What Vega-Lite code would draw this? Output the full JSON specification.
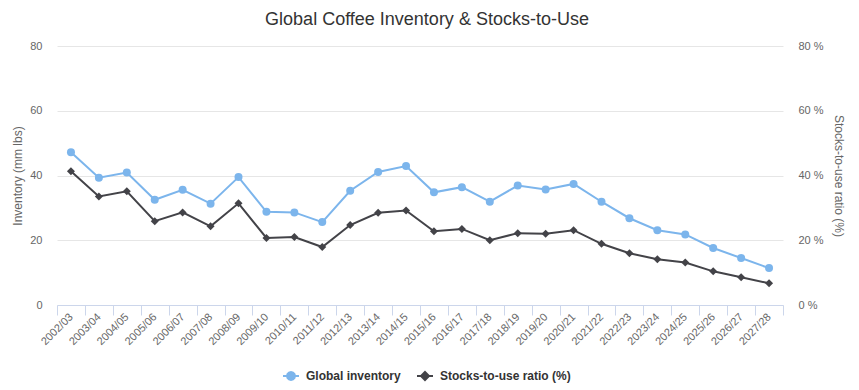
{
  "$schema": "https://vega.github.io/schema/vega-lite/v6.json",
  "width": 726,
  "height": 259,
  "autosize": "none",
  "padding": {"left": 57, "top": 46, "right": 76, "bottom": 85},
  "background": "#ffffff",
  "config": {
    "font": "Liberation Sans",
    "view": {"stroke": null}
  },
  "title": {
    "text": "Global Coffee Inventory & Stocks-to-Use",
    "fontSize": 18,
    "fontWeight": "normal",
    "color": "#333333",
    "anchor": "middle",
    "dx": 7,
    "offset": 11
  },
  "data": {
    "values": [
      {"season": "2002/03", "inventory": 47.2, "ratio": 41.3},
      {"season": "2003/04", "inventory": 39.3, "ratio": 33.5},
      {"season": "2004/05", "inventory": 40.9, "ratio": 35.1},
      {"season": "2005/06", "inventory": 32.5, "ratio": 25.9},
      {"season": "2006/07", "inventory": 35.6, "ratio": 28.6},
      {"season": "2007/08", "inventory": 31.3, "ratio": 24.3},
      {"season": "2008/09", "inventory": 39.5, "ratio": 31.4},
      {"season": "2009/10", "inventory": 28.8, "ratio": 20.7},
      {"season": "2010/11", "inventory": 28.6, "ratio": 21.0},
      {"season": "2011/12", "inventory": 25.6, "ratio": 17.9},
      {"season": "2012/13", "inventory": 35.3, "ratio": 24.7},
      {"season": "2013/14", "inventory": 41.1, "ratio": 28.5},
      {"season": "2014/15", "inventory": 42.9, "ratio": 29.2},
      {"season": "2015/16", "inventory": 34.8, "ratio": 22.8},
      {"season": "2016/17", "inventory": 36.4, "ratio": 23.5},
      {"season": "2017/18", "inventory": 31.9, "ratio": 20.0},
      {"season": "2018/19", "inventory": 36.9, "ratio": 22.2},
      {"season": "2019/20", "inventory": 35.7, "ratio": 22.0},
      {"season": "2020/21", "inventory": 37.4, "ratio": 23.1},
      {"season": "2021/22", "inventory": 31.9, "ratio": 18.9},
      {"season": "2022/23", "inventory": 26.8, "ratio": 16.0},
      {"season": "2023/24", "inventory": 23.1, "ratio": 14.1},
      {"season": "2024/25", "inventory": 21.8, "ratio": 13.1},
      {"season": "2025/26", "inventory": 17.6, "ratio": 10.4},
      {"season": "2026/27", "inventory": 14.5, "ratio": 8.6},
      {"season": "2027/28", "inventory": 11.4, "ratio": 6.7}
    ]
  },
  "encoding": {
    "x": {
      "field": "season",
      "type": "ordinal",
      "bandPosition": 0.5,
      "scale": {"type": "band", "paddingInner": 0, "paddingOuter": 0},
      "axis": {
        "title": null,
        "tickBand": "extent",
        "domainColor": "#ccd6eb",
        "tickColor": "#ccd6eb",
        "tickSize": 10,
        "labelAngle": -45,
        "labelAlign": "right",
        "labelBaseline": "middle",
        "labelPadding": 0,
        "labelColor": "#666666",
        "labelFontSize": 11,
        "grid": false
      }
    }
  },
  "layer": [
    {
      "encoding": {
        "y": {
          "field": "inventory",
          "type": "quantitative",
          "scale": {"domain": [0, 80], "nice": false, "zero": true},
          "axis": {
            "orient": "left",
            "title": "Inventory (mm lbs)",
            "values": [0, 20, 40, 60, 80],
            "grid": true,
            "gridColor": "#e6e6e6",
            "domain": false,
            "ticks": false,
            "labelPadding": 15,
            "labelColor": "#666666",
            "labelFontSize": 11,
            "titleColor": "#666666",
            "titleFontSize": 12,
            "titleFontWeight": "normal",
            "titlePadding": 5
          }
        },
        "color": {
          "datum": "Global inventory",
          "type": "nominal",
          "scale": {
            "domain": ["Global inventory", "Stocks-to-use ratio (%)"],
            "range": ["#7cb5ec", "#434348"]
          },
          "legend": {
            "title": null,
            "orient": "none",
            "direction": "horizontal",
            "legendX": 225,
            "legendY": 321,
            "padding": 0,
            "symbolSize": 256,
            "symbolStrokeWidth": 2,
            "labelFontSize": 12,
            "labelFontWeight": "bold",
            "labelColor": "#333333",
            "labelOffset": 6,
            "columnPadding": 12,
            "encode": {
              "symbols": {
                "update": {
                  "shape": {"signal": "datum.value === 'Global inventory' ? 'M-1,0L1,0M0.5,0L0.433,0.25L0.25,0.433L0,0.5L-0.25,0.433L-0.433,0.25L-0.5,0L-0.433,-0.25L-0.25,-0.433L0,-0.5L0.25,-0.433L0.433,-0.25Z' : 'M-1,0L1,0M0,-0.5L0.5,0L0,0.5L-0.5,0Z'"},
                  "fill": {"signal": "datum.value === 'Global inventory' ? '#7cb5ec' : '#434348'"},
                  "stroke": {"signal": "datum.value === 'Global inventory' ? '#7cb5ec' : '#434348'"},
                  "strokeWidth": {"value": 2}
                }
              }
            }
          }
        }
      },
      "layer": [
        {"mark": {"type": "line", "strokeWidth": 2}},
        {"mark": {"type": "point", "shape": "circle", "filled": true, "size": 64, "opacity": 1}}
      ]
    },
    {
      "encoding": {
        "y": {
          "field": "ratio",
          "type": "quantitative",
          "scale": {"domain": [0, 80], "nice": false, "zero": true},
          "axis": {
            "orient": "right",
            "title": "Stocks-to-use ratio (%)",
            "values": [0, 20, 40, 60, 80],
            "labelExpr": "datum.value + ' %'",
            "grid": false,
            "domain": false,
            "ticks": false,
            "labelPadding": 15,
            "labelColor": "#666666",
            "labelFontSize": 11,
            "titleColor": "#666666",
            "titleFontSize": 12,
            "titleFontWeight": "normal",
            "titlePadding": 8
          }
        },
        "color": {"datum": "Stocks-to-use ratio (%)", "type": "nominal"}
      },
      "layer": [
        {"mark": {"type": "line", "strokeWidth": 2}},
        {"mark": {"type": "point", "shape": "diamond", "filled": true, "size": 64, "opacity": 1}}
      ]
    }
  ],
  "resolve": {"scale": {"y": "independent"}}
}
